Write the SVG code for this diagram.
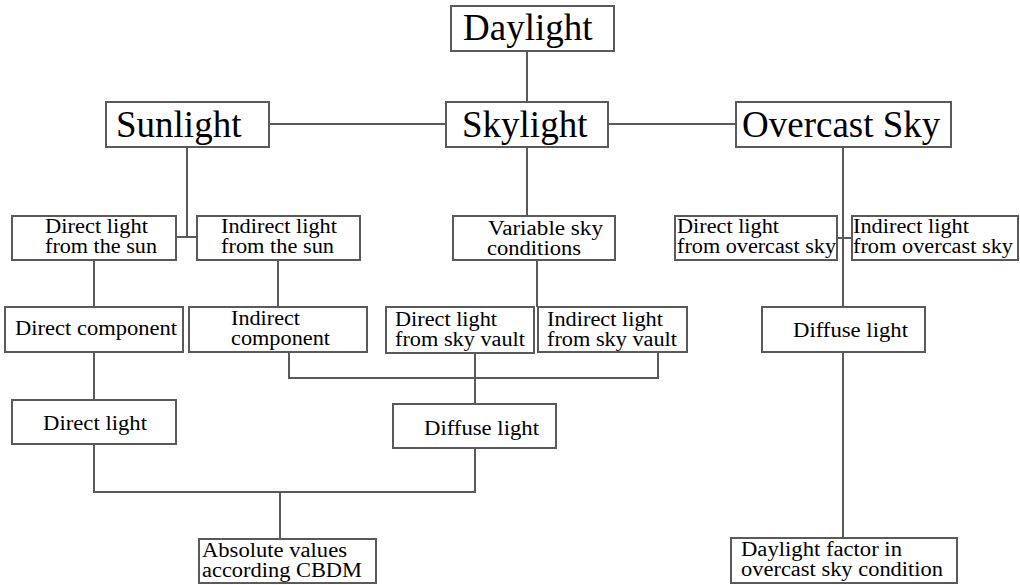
<svg xmlns="http://www.w3.org/2000/svg" width="1020" height="585" viewBox="0 0 1020 585">
<style>
  .box { fill: #ffffff; stroke: #5a5a5a; stroke-width: 2; }
  .big { font-family: "Liberation Serif", "Times New Roman", serif; font-size: 37px; fill: #000; }
  .sm { font-family: "Liberation Serif", "Times New Roman", serif; font-size: 20px; fill: #000; }
  .conn { fill: none; stroke: #5a5a5a; stroke-width: 2; }
</style>
<rect width="1020" height="585" fill="#ffffff"/>
<g id="connectors">
  <line class="conn" x1="527" y1="51" x2="527" y2="102"/>
  <line class="conn" x1="269" y1="124" x2="446" y2="124"/>
  <line class="conn" x1="608" y1="124" x2="736" y2="124"/>
  <polyline class="conn" points="187,147 187,237"/>
  <line class="conn" x1="176" y1="237" x2="197" y2="237"/>
  <line class="conn" x1="527" y1="147" x2="527" y2="216"/>
  <line class="conn" x1="843" y1="147" x2="843" y2="307"/>
  <line class="conn" x1="837" y1="238" x2="852" y2="238"/>
  <line class="conn" x1="94" y1="260" x2="94" y2="307"/>
  <line class="conn" x1="278" y1="260" x2="278" y2="307"/>
  <line class="conn" x1="537" y1="260" x2="537" y2="307"/>
  <line class="conn" x1="94" y1="352" x2="94" y2="400"/>
  <polyline class="conn" points="289,352 289,378 658,378 658,352"/>
  <line class="conn" x1="475" y1="353" x2="475" y2="404"/>
  <polyline class="conn" points="94,444 94,492 475,492 475,448"/>
  <line class="conn" x1="280" y1="492" x2="280" y2="539"/>
  <line class="conn" x1="843" y1="352" x2="843" y2="538"/>
</g>
<g id="daylight">
  <rect class="box" x="451" y="6" width="163" height="45"/>
  <text class="big" x="463" y="40">Daylight</text>
</g>
<g id="sunlight">
  <rect class="box" x="106" y="102" width="163" height="45"/>
  <text class="big" x="116" y="137">Sunlight</text>
</g>
<g id="skylight">
  <rect class="box" x="446" y="102" width="162" height="45"/>
  <text class="big" x="462" y="137">Skylight</text>
</g>
<g id="overcast-sky">
  <rect class="box" x="736" y="102" width="215" height="45"/>
  <text class="big" x="742" y="137">Overcast Sky</text>
</g>
<g id="direct-sun">
  <rect class="box" x="12" y="216" width="164" height="44"/>
  <text class="sm" x="45" y="233" textLength="103" lengthAdjust="spacingAndGlyphs">Direct light</text>
  <text class="sm" x="45" y="253" textLength="112" lengthAdjust="spacingAndGlyphs">from the sun</text>
</g>
<g id="indirect-sun">
  <rect class="box" x="197" y="216" width="163" height="44"/>
  <text class="sm" x="221" y="233" textLength="116" lengthAdjust="spacingAndGlyphs">Indirect light</text>
  <text class="sm" x="221" y="253" textLength="113" lengthAdjust="spacingAndGlyphs">from the sun</text>
</g>
<g id="variable-sky">
  <rect class="box" x="453" y="216" width="162" height="44"/>
  <text class="sm" x="488" y="235" textLength="115" lengthAdjust="spacingAndGlyphs">Variable sky</text>
  <text class="sm" x="487" y="255" textLength="94" lengthAdjust="spacingAndGlyphs">conditions</text>
</g>
<g id="direct-overcast">
  <rect class="box" x="675" y="216" width="162" height="44"/>
  <text class="sm" x="677" y="233" textLength="102" lengthAdjust="spacingAndGlyphs">Direct light</text>
  <text class="sm" x="677" y="253" textLength="159" lengthAdjust="spacingAndGlyphs">from overcast sky</text>
</g>
<g id="indirect-overcast">
  <rect class="box" x="852" y="216" width="166" height="44"/>
  <text class="sm" x="853" y="233" textLength="116" lengthAdjust="spacingAndGlyphs">Indirect light</text>
  <text class="sm" x="853" y="253" textLength="160" lengthAdjust="spacingAndGlyphs">from overcast sky</text>
</g>
<g id="direct-component">
  <rect class="box" x="5" y="307" width="178" height="45"/>
  <text class="sm" x="15" y="335" textLength="162" lengthAdjust="spacingAndGlyphs">Direct component</text>
</g>
<g id="indirect-component">
  <rect class="box" x="189" y="307" width="178" height="45"/>
  <text class="sm" x="231" y="325" textLength="69" lengthAdjust="spacingAndGlyphs">Indirect</text>
  <text class="sm" x="231" y="345" textLength="99" lengthAdjust="spacingAndGlyphs">component</text>
</g>
<g id="direct-sky-vault">
  <rect class="box" x="386" y="307" width="148" height="46"/>
  <text class="sm" x="395" y="326" textLength="102" lengthAdjust="spacingAndGlyphs">Direct light</text>
  <text class="sm" x="395" y="346" textLength="130" lengthAdjust="spacingAndGlyphs">from sky vault</text>
</g>
<g id="indirect-sky-vault">
  <rect class="box" x="538" y="307" width="149" height="45"/>
  <text class="sm" x="547" y="326" textLength="116" lengthAdjust="spacingAndGlyphs">Indirect light</text>
  <text class="sm" x="547" y="346" textLength="130" lengthAdjust="spacingAndGlyphs">from sky vault</text>
</g>
<g id="diffuse-light-right">
  <rect class="box" x="762" y="307" width="163" height="45"/>
  <text class="sm" x="793" y="337" textLength="115" lengthAdjust="spacingAndGlyphs">Diffuse light</text>
</g>
<g id="direct-light">
  <rect class="box" x="12" y="400" width="164" height="44"/>
  <text class="sm" x="43" y="430" textLength="104" lengthAdjust="spacingAndGlyphs">Direct light</text>
</g>
<g id="diffuse-light">
  <rect class="box" x="393" y="404" width="163" height="44"/>
  <text class="sm" x="424" y="435" textLength="115" lengthAdjust="spacingAndGlyphs">Diffuse light</text>
</g>
<g id="absolute-values">
  <rect class="box" x="199" y="539" width="177" height="44"/>
  <text class="sm" x="202" y="557" textLength="145" lengthAdjust="spacingAndGlyphs">Absolute values</text>
  <text class="sm" x="202" y="577" textLength="160" lengthAdjust="spacingAndGlyphs">according CBDM</text>
</g>
<g id="daylight-factor">
  <rect class="box" x="731" y="538" width="226" height="45"/>
  <text class="sm" x="741" y="556" textLength="161" lengthAdjust="spacingAndGlyphs">Daylight factor in</text>
  <text class="sm" x="741" y="576" textLength="202" lengthAdjust="spacingAndGlyphs">overcast sky condition</text>
</g>
</svg>
